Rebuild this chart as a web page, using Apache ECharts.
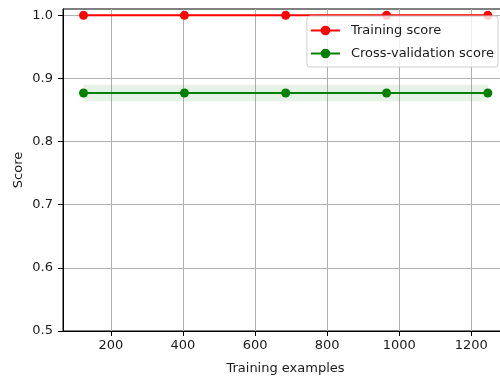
<!DOCTYPE html>
<html>
<head>
<meta charset="utf-8">
<script src="https://cdn.jsdelivr.net/npm/echarts@6/dist/echarts.min.js"></script>
<style>html,body{margin:0;padding:0;background:#fff;}#c{width:500px;height:379px;}</style>
</head>
<body>
<div id="c"></div>
<script>
const trainSizes = [124, 404, 685, 965, 1246];
const trainMean = [1.0, 1.0, 1.0, 1.0, 1.0];
const trainStd = [0.0, 0.0, 0.0, 0.0, 0.0];
const cvMean = [0.877, 0.877, 0.877, 0.877, 0.877];
const cvStd = [0.013, 0.013, 0.013, 0.013, 0.013];
const xTicks = [200, 400, 600, 800, 1000, 1200];
const yTicks = [0.5, 0.6, 0.7, 0.8, 0.9, 1.0];

const font = 'DejaVu Sans';
const textColor = '#1a1a1a';
const pairs = (xs, ys) => xs.map((x, i) => [x, ys[i]]);

function bandSeries(xs, mean, std, color) {
  return {
    type: 'custom', silent: true, z: 1, clip: true,
    data: [[xs[0], mean[0]]],
    renderItem: function (params, api) {
      const up = xs.map((x, i) => api.coord([x, mean[i] + std[i]]));
      const lo = xs.map((x, i) => api.coord([x, mean[i] - std[i]])).reverse();
      return {type: 'polygon', shape: {points: up.concat(lo)}, style: {fill: color, opacity: 0.1}};
    }
  };
}

const chart = echarts.init(document.getElementById('c'), null, {renderer: 'canvas'});
chart.setOption({
  animation: false,
  backgroundColor: '#fff',
  grid: {left: 63, top: 9, right: -8, bottom: 48, outerBoundsMode: 'none', containLabel: false,
         show: true, borderColor: '#000', borderWidth: 1, backgroundColor: 'transparent'},
  legend: {
    data: ['Training score', 'Cross-validation score'],
    orient: 'vertical', right: 2, top: 16,
    itemWidth: 29, itemHeight: 12, itemGap: 10,
    padding: [8, 4, 7, 3],
    backgroundColor: 'rgba(255,255,255,0.8)', borderColor: '#ccc', borderWidth: 1, borderRadius: 3,
    textStyle: {fontFamily: font, fontSize: 13, color: textColor, padding: [0, 0, 0, 6]}
  },
  xAxis: {
    type: 'value', min: 67, max: 1302,
    name: 'Training examples', nameLocation: 'middle', nameGap: 31, nameMoveOverlap: false,
    nameTextStyle: {fontFamily: font, fontSize: 13, color: textColor},
    axisLine: {show: true, lineStyle: {color: '#000', width: 1}},
    axisTick: {show: true, inside: false, length: 5, lineStyle: {color: '#000'}, customValues: xTicks},
    axisLabel: {fontFamily: font, fontSize: 13, color: textColor, margin: 8, customValues: xTicks, formatter: v => String(v)},
    splitLine: {show: true, lineStyle: {color: '#b0b0b0', width: 1}}
  },
  yAxis: {
    type: 'value', min: 0.5, max: 1.01,
    name: 'Score', nameLocation: 'middle', nameGap: 38, nameMoveOverlap: false,
    nameTextStyle: {fontFamily: font, fontSize: 13, color: textColor},
    axisLine: {show: true, lineStyle: {color: '#000', width: 1}},
    axisTick: {show: true, inside: false, length: 5, lineStyle: {color: '#000'}, customValues: yTicks},
    axisLabel: {fontFamily: font, fontSize: 13, color: textColor, margin: 10, customValues: yTicks, formatter: v => v.toFixed(1)},
    splitLine: {show: true, lineStyle: {color: '#b0b0b0', width: 1}}
  },
  series: [
    bandSeries(trainSizes, trainMean, trainStd, '#ff0000'),
    bandSeries(trainSizes, cvMean, cvStd, '#008000'),
    {name: 'Training score', type: 'line', data: pairs(trainSizes, trainMean), symbol: 'circle', symbolSize: 9,
     itemStyle: {color: '#ff0000'}, lineStyle: {color: '#ff0000', width: 2}, z: 3},
    {name: 'Cross-validation score', type: 'line', data: pairs(trainSizes, cvMean), symbol: 'circle', symbolSize: 9,
     itemStyle: {color: '#008000'}, lineStyle: {color: '#008000', width: 2}, z: 3}
  ]
});
</script>
</body>
</html>
